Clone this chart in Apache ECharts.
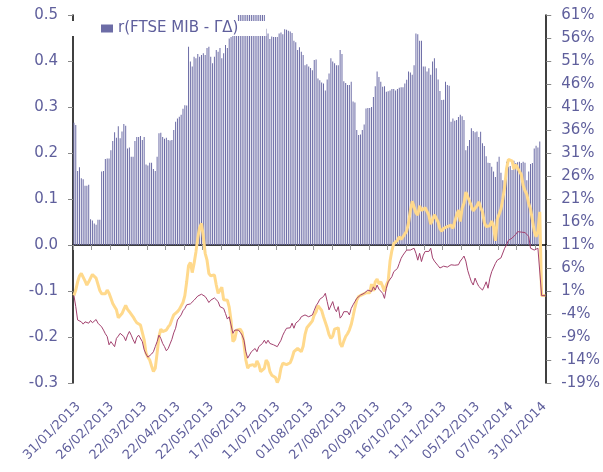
<!DOCTYPE html>
<html>
<head>
<meta charset="utf-8">
<script src="https://cdn.jsdelivr.net/npm/echarts@6/dist/echarts.min.js"></script>
<style>
    html, body {margin: 0; padding: 0; background: #fff;}
    #chart {width: 603px; height: 472px;}
</style>
</head>
<body>
<div id="chart"></div>
<script>
// etichette dell'asse delle date (una ogni 18 osservazioni)
const dateLabels = ['31/01/2013', '26/02/2013', '22/03/2013', '22/04/2013', '22/05/2013', '17/06/2013',
    '11/07/2013', '01/08/2013', '27/08/2013', '20/09/2013', '16/10/2013', '11/11/2013',
    '05/12/2013', '07/01/2014', '31/01/2014'];

// r(FTSE MIB - ΓΔ), asse sinistro
const corrBars = [
    0.266, 0.261, 0.161, 0.169, 0.145, 0.143, 0.129, 0.129, 0.131, 0.056, 0.053, 0.047, 0.044, 0.055, 0.055, 0.160,
    0.161, 0.187, 0.188, 0.188, 0.206, 0.226, 0.245, 0.233, 0.258, 0.232, 0.247, 0.263, 0.259, 0.210, 0.212, 0.192,
    0.192, 0.226, 0.235, 0.235, 0.237, 0.228, 0.235, 0.175, 0.173, 0.179, 0.179, 0.165, 0.161, 0.192, 0.243, 0.244,
    0.235, 0.231, 0.233, 0.228, 0.227, 0.228, 0.250, 0.268, 0.275, 0.279, 0.283, 0.296, 0.304, 0.303, 0.431, 0.399,
    0.388, 0.409, 0.406, 0.415, 0.409, 0.413, 0.417, 0.413, 0.428, 0.431, 0.409, 0.395, 0.409, 0.424, 0.420, 0.428,
    0.406, 0.417, 0.435, 0.428, 0.449, 0.452, 0.468, 0.475, 0.480, 0.500, 0.500, 0.500, 0.500, 0.500, 0.500, 0.500,
    0.500, 0.500, 0.500, 0.500, 0.500, 0.500, 0.500, 0.500, 0.470, 0.460, 0.448, 0.453, 0.452, 0.452, 0.452, 0.460,
    0.462, 0.458, 0.469, 0.468, 0.466, 0.464, 0.461, 0.444, 0.441, 0.424, 0.430, 0.420, 0.413, 0.391, 0.393, 0.388,
    0.385, 0.380, 0.402, 0.403, 0.362, 0.358, 0.353, 0.351, 0.336, 0.360, 0.373, 0.406, 0.399, 0.395, 0.391, 0.391,
    0.424, 0.415, 0.356, 0.352, 0.348, 0.348, 0.355, 0.312, 0.310, 0.250, 0.239, 0.240, 0.250, 0.262, 0.297, 0.298,
    0.298, 0.300, 0.322, 0.345, 0.377, 0.365, 0.355, 0.344, 0.345, 0.333, 0.334, 0.336, 0.339, 0.339, 0.336, 0.339,
    0.342, 0.343, 0.343, 0.351, 0.359, 0.377, 0.375, 0.370, 0.391, 0.460, 0.458, 0.444, 0.444, 0.388, 0.388, 0.377,
    0.384, 0.370, 0.399, 0.406, 0.384, 0.360, 0.335, 0.315, 0.316, 0.355, 0.348, 0.346, 0.268, 0.275, 0.270, 0.272,
    0.278, 0.283, 0.280, 0.272, 0.206, 0.215, 0.228, 0.254, 0.248, 0.245, 0.247, 0.235, 0.246, 0.221, 0.215, 0.193,
    0.179, 0.178, 0.170, 0.160, 0.148, 0.181, 0.192, 0.157, 0.141, 0.139, 0.181, 0.170, 0.172, 0.163, 0.183, 0.178,
    0.180, 0.181, 0.178, 0.181, 0.179, 0.141, 0.160, 0.176, 0.178, 0.210, 0.216, 0.212, 0.225, null, null, null
];

// linea gialla (%), asse destro
const yellowLine = [
    0, 1.2, 3.0, 4.3, 4.8, 4.7, 3.2, 2.3, 3.0, 3.8, 4.6, 5.0, 3.8, 3.8, 1.1, 0.4,
    0.6, 0.4, 1.2, 0.5, -0.6, -1.7, -2.4, -3.1, -4.8, -5.2, -3.9, -3.0, -2.1, -3.0, -3.5, -3.7,
    -4.6, -5.3, -5.9, -6.2, -6.4, -6.3, -9.6, -12.5, -13.4, -14.0, -15.3, -16.5, -15.8, -12.5, -8.9, -7.3,
    -7.8, -7.5, -7.5, -6.8, -6.3, -5.2, -4.2, -4.2, -3.5, -3.0, -2.6, -1.5, 0.0, 3.0, 6.5, 7.2,
    5.0, 7.0, 9.5, 12.5, 14.8, 15.7, 12.8, 9.2, 7.7, 4.8, 4.3, 4.2, 4.5, 2.3, 0.5, 0.8,
    1.8, -0.9, -1.3, -1.0, -2.5, -5.5, -10.0, -9.5, -7.5, -7.5, -7.3, -8.0, -10.5, -14.0, -15.8, -15.2,
    -15.0, -15.0, -15.5, -14.2, -15.0, -16.5, -16.9, -15.8, -14.0, -14.6, -16.5, -17.3, -17.0, -17.8, -18.9, -18.0,
    -15.8, -14.7, -15.1, -15.0, -15.0, -14.6, -13.6, -12.2, -11.8, -11.5, -11.8, -12.2, -11.0, -8.5, -7.0, -6.9,
    -6.0, -5.5, -4.2, -3.5, -2.2, -2.0, -3.2, -4.6, -5.8, -7.0, -8.5, -9.3, -8.8, -7.3, -7.5, -7.0,
    -10.4, -11.1, -9.9, -8.9, -8.3, -7.5, -6.3, -4.5, -2.6, -1.0, -0.2, 0.0, 0.2, 0.2, 0.6, 1.0,
    0.6, 2.5, 1.0, 3.0, 3.6, 2.5, 3.0, 2.0, 0.9, 2.3, 3.2, 7.5, 9.8, 11.3, 11.7, 12.0,
    12.8, 12.2, 12.8, 13.2, 14.0, 15.8, 18.5, 20.5, 20.8, 18.0, 17.5, 19.5, 18.5, 18.2, 19.1, 19.0,
    17.5, 15.5, 16.5, 17.6, 17.4, 16.0, 14.5, 14.0, 14.6, 14.3, 15.0, 14.6, 15.3, 14.6, 15.0, 17.5,
    18.6, 16.1, 19.0, 20.1, 22.5, 22.8, 20.5, 19.5, 18.4, 18.5, 19.5, 20.4, 19.2, 18.2, 15.9, 15.0,
    15.3, 15.2, 16.2, 15.0, 11.9, 16.6, 16.8, 18.8, 21.0, 23.6, 27.5, 29.6, 30.0, 29.3, 27.5, 28.5,
    28.4, 27.0, 26.3, 24.0, 22.8, 22.0, 20.0, 18.8, 16.5, 14.0, 12.8, 14.0, 18.2, 0, 0, 0
];

// linea rossa (%), asse destro
const redLine = [
    0, -2.4, -5.3, -5.4, -5.7, -6.2, -5.7, -5.3, -6.0, -5.4, -5.9, -5.7, -5.2, -6.0, -6.0, -6.8,
    -7.5, -8.3, -8.9, -10.7, -10.0, -10.0, -11.1, -9.3, -8.8, -8.2, -8.3, -8.9, -9.8, -8.6, -7.8, -8.6,
    -9.6, -10.4, -9.1, -8.6, -8.9, -10.0, -11.8, -12.7, -13.4, -13.3, -12.7, -12.2, -11.1, -10.0, -8.6, -9.3,
    -10.4, -11.1, -12.0, -11.5, -10.5, -9.5, -8.1, -7.1, -5.3, -4.9, -4.2, -3.3, -2.8, -2.0, -1.8, -1.8,
    -1.5, -1.0, -0.6, -0.1, 0.2, 0.3, 0.0, -0.2, -0.8, -1.5, -1.0, -0.6, -0.5, -0.9, -1.3, -2.4,
    -2.6, -2.8, -3.9, -5.1, -4.6, -6.4, -8.2, -7.5, -7.8, -7.5, -8.0, -8.6, -9.7, -12.2, -13.6, -12.9,
    -12.2, -12.6, -11.5, -12.2, -11.1, -11.5, -10.4, -9.7, -10.4, -9.7, -10.4, -10.7, -10.7, -10.9, -11.1, -11.3,
    -9.7, -8.6, -7.8, -7.1, -6.8, -7.0, -6.0, -7.1, -6.0, -6.4, -5.3, -4.6, -4.9, -4.2, -4.2, -4.6,
    -4.9, -4.2, -3.2, -2.2, -1.6, -0.8, -0.5, -0.2, 0.5, -1.3, -3.1, -2.8, -1.3, -2.8, -3.5, -2.4,
    -4.9, -4.4, -3.5, -3.1, -3.5, -4.2, -2.8, -2.0, -1.3, -0.6, -0.2, 0.1, 0.3, 0.5, 0.8, 1.2,
    1.6, 0.9, 1.9, 1.2, 2.3, 1.4, 1.6, 0.5, -0.6, 1.6, 3.0, 3.0, 4.1, 5.2, 4.8, 5.9,
    7.0, 8.1, 8.8, 9.2, 9.9, 9.6, 9.9, 10.0, 10.3, 9.2, 7.7, 9.2, 7.4, 8.8, 9.6, 9.9,
    9.6, 10.3, 8.2, 7.5, 7.1, 6.5, 6.0, 6.0, 6.4, 6.4, 6.2, 6.4, 6.7, 6.5, 6.6, 6.7,
    6.7, 7.5, 8.0, 8.6, 7.5, 5.5, 4.2, 3.0, 2.3, 3.8, 2.8, 2.0, 2.2, 1.2, 2.0, 3.0,
    1.6, 3.8, 5.2, 5.6, 7.0, 7.7, 7.7, 8.2, 8.6, 10.3, 11.0, 12.0, 11.9, 12.5, 12.9, 13.3,
    13.9, 13.8, 13.8, 13.7, 13.7, 13.5, 12.9, 10.3, 10.0, 9.9, 10.1, 10.3, 10.7, 0, 0, 0
];

const labelStep = 18;
const categories = corrBars.map((v, i) => String(i));

const textColor = '#5f5f9c';
const fontFamily = 'DejaVu Sans';
const legendName = 'r(FTSE MIB - ΓΔ)';

let myChart = echarts.init(document.getElementById('chart'));

let option = {
    animation: false,
    backgroundColor: '#fff',
    textStyle: {fontFamily: fontFamily, color: textColor},
    grid: {left: 73, right: 56, top: 15, bottom: 89},
    legend: {
        data: [legendName],
        left: 70,
        top: 21,
        padding: [0, 28, 0, 31],
        backgroundColor: '#fff',
        icon: 'rect',
        itemWidth: 12,
        itemHeight: 8,
        itemStyle: {color: '#6c6ca6'},
        // stile rich: la dimensione del testo della legenda non veniva applicata
        formatter: '{t|{name}}',
        textStyle: {
            rich: {
                t: {color: textColor, fontSize: 15, lineHeight: 14, fontFamily: fontFamily}
            }
        }
    },
    xAxis: [{
        // asse sullo zero, solo linea e tacche
        type: 'category',
        data: categories,
        position: 'bottom',
        axisLine: {onZero: true, lineStyle: {color: '#000', width: 1.5}},
        axisTick: {show: true, interval: 9, length: 5, lineStyle: {color: '#999'}},
        axisLabel: {show: false},
        splitLine: {show: false}
    }, {
        // etichette delle date in basso
        type: 'category',
        data: categories,
        position: 'bottom',
        axisLine: {show: false, onZero: false},
        axisTick: {show: false},
        axisLabel: {
            interval: labelStep - 1,
            rotate: 45,
            margin: 17,
            verticalAlign: 'top',
            color: textColor,
            fontSize: 13,
            fontFamily: fontFamily,
            formatter: function (v, idx) {
                return dateLabels[idx / labelStep] || '';
            }
        }
    }],
    yAxis: [{
        type: 'value',
        min: -0.3,
        max: 0.5,
        interval: 0.1,
        axisLine: {show: true, lineStyle: {color: '#000', width: 1.5}},
        axisTick: {show: true, length: 5, lineStyle: {color: '#888'}},
        axisLabel: {
            color: textColor, fontSize: 15, margin: 15, fontFamily: fontFamily,
            formatter: v => v.toFixed(1)
        },
        splitLine: {show: false}
    }, {
        type: 'value',
        position: 'right',
        min: -19,
        max: 61,
        interval: 5,
        axisLine: {show: true, lineStyle: {color: '#000', width: 1.5}},
        axisTick: {show: true, length: 5, lineStyle: {color: '#888'}},
        axisLabel: {
            color: textColor, fontSize: 15, margin: 15, fontFamily: fontFamily,
            formatter: v => v + '%'
        },
        splitLine: {show: false}
    }],
    series: [{
        name: legendName,
        type: 'bar',
        xAxisIndex: 0,
        yAxisIndex: 0,
        data: corrBars,
        barWidth: 1,
        itemStyle: {color: '#6c6ca6'}
    }, {
        name: 'giallo',
        type: 'line',
        xAxisIndex: 0,
        yAxisIndex: 1,
        data: yellowLine,
        showSymbol: false,
        symbol: 'none',
        lineStyle: {color: '#ffd98c', width: 3}
    }, {
        name: 'rosso',
        type: 'line',
        xAxisIndex: 0,
        yAxisIndex: 1,
        data: redLine,
        showSymbol: false,
        symbol: 'none',
        lineStyle: {color: '#a3426f', width: 1}
    }]
};

myChart.setOption(option);
</script>
</body>
</html>
